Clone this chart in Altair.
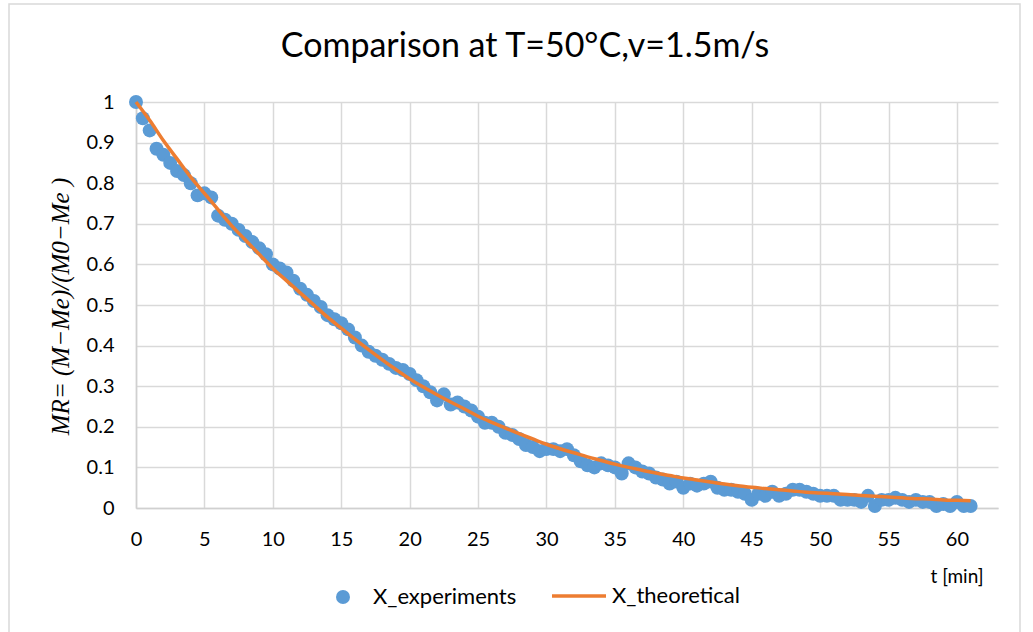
import altair as alt
import pandas as pd

# ---- data ----
t_exp = [0, 0.5, 1, 1.5, 2, 2.5, 3, 3.5, 4, 4.5, 5, 5.5, 6, 6.5, 7, 7.5, 8, 8.5, 9, 9.5,
         10, 10.5, 11, 11.5, 12, 12.5, 13, 13.5, 14, 14.5, 15, 15.5, 16, 16.5, 17, 17.5, 18, 18.5, 19, 19.5,
         20, 20.5, 21, 21.5, 22, 22.5, 23, 23.5, 24, 24.5, 25, 25.5, 26, 26.5, 27, 27.5, 28, 28.5, 29, 29.5,
         30, 30.5, 31, 31.5, 32, 32.5, 33, 33.5, 34, 34.5, 35, 35.5, 36, 36.5, 37, 37.5, 38, 38.5, 39, 39.5,
         40, 40.5, 41, 41.5, 42, 42.5, 43, 43.5, 44, 44.5, 45, 45.5, 46, 46.5, 47, 47.5, 48, 48.5, 49, 49.5,
         50, 50.5, 51, 51.5, 52, 52.5, 53, 53.5, 54, 54.5, 55, 55.5, 56, 56.5, 57, 57.5, 58, 58.5, 59, 59.5,
         60, 60.5, 61]
mr_exp = [1.0, 0.96, 0.93, 0.885, 0.87, 0.85, 0.83, 0.82, 0.80, 0.77, 0.775, 0.765, 0.72, 0.71, 0.70, 0.685, 0.67, 0.655, 0.64, 0.625,
          0.60, 0.59, 0.58, 0.56, 0.54, 0.525, 0.51, 0.495, 0.475, 0.465, 0.455, 0.44, 0.42, 0.40, 0.385, 0.375, 0.365, 0.355, 0.345, 0.34,
          0.33, 0.315, 0.30, 0.285, 0.265, 0.28, 0.255, 0.26, 0.25, 0.24, 0.225, 0.21, 0.21, 0.20, 0.185, 0.18, 0.17, 0.155, 0.15, 0.14,
          0.145, 0.145, 0.14, 0.145, 0.13, 0.115, 0.105, 0.10, 0.11, 0.105, 0.10, 0.085, 0.11, 0.10, 0.09, 0.085, 0.075, 0.07, 0.06, 0.065,
          0.05, 0.06, 0.055, 0.06, 0.065, 0.05, 0.045, 0.045, 0.04, 0.035, 0.02, 0.035, 0.03, 0.04, 0.03, 0.035, 0.045, 0.045, 0.04, 0.035,
          0.03, 0.03, 0.03, 0.02, 0.02, 0.02, 0.015, 0.03, 0.005, 0.02, 0.02, 0.025, 0.02, 0.015, 0.02, 0.015, 0.015, 0.005, 0.01, 0.005,
          0.015, 0.005, 0.005]

t_theo = [0, 1, 2, 3, 4, 5, 6, 7, 8, 9, 10, 11, 12, 13, 14, 15, 16, 17, 18, 19, 20,
          21, 22, 23, 24, 25, 26, 27, 28, 29, 30, 31, 32, 33, 34, 35, 36, 37, 38, 39, 40,
          41, 42, 43, 44, 45, 46, 47, 48, 49, 50, 51, 52, 53, 54, 55, 56, 57, 58, 59, 60, 61]
mr_theo = [1.0, 0.955, 0.905, 0.86, 0.815, 0.775, 0.735, 0.695, 0.66, 0.625, 0.59,
           0.56, 0.53, 0.5, 0.47, 0.443, 0.416, 0.39, 0.365, 0.341, 0.318,
           0.298, 0.279, 0.261, 0.244, 0.226, 0.211, 0.197, 0.183, 0.17, 0.157,
           0.146, 0.136, 0.126, 0.117, 0.108, 0.1, 0.093, 0.086, 0.08, 0.074,
           0.069, 0.064, 0.059, 0.055, 0.051, 0.048, 0.045, 0.042, 0.039, 0.037,
           0.035, 0.033, 0.031, 0.029, 0.027, 0.025, 0.023, 0.022, 0.02, 0.019, 0.018]

x_ticks = [0, 5, 10, 15, 20, 25, 30, 35, 40, 45, 50, 55, 60]
y_ticks = [0, 0.1, 0.2, 0.3, 0.4, 0.5, 0.6, 0.7, 0.8, 0.9, 1.0]

BLUE = "#5B9BD5"
ORANGE = "#ED7D31"
FONT = "Lato"

df_exp = pd.DataFrame({"t": t_exp, "mr": mr_exp, "series": "X_experiments"})
df_theo = pd.DataFrame({"t": t_theo, "mr": mr_theo, "series": "X_theoretical"})

x_enc = alt.X("t:Q", scale=alt.Scale(domain=[0, 63], nice=False),
              axis=alt.Axis(values=x_ticks, title="t [min]", titleX=847, titleY=68,
                            titleAlign="right", titleBaseline="middle", titleFont=FONT,
                            titleFontSize=19, titleFontWeight="normal", titleColor="#000",
                            labelPadding=21, labelFlush=False))
y_enc = alt.Y("mr:Q", scale=alt.Scale(domain=[0, 1], nice=False),
              axis=alt.Axis(values=y_ticks, format=".1~f",
                            title="MR=  (M−Me)/(M0−Me )", titleX=-76, titleY=204,
                            titleAlign="center", titleBaseline="middle",
                            titleFont="Liberation Serif", titleFontStyle="italic",
                            titleFontSize=25, titleFontWeight="normal", titleColor="#000",
                            labelPadding=22, labelFlush=False))

border = alt.Chart(alt.Data(values=[{}])).mark_rect(
    fill=None, stroke="#d9d9d9", strokeWidth=1.5
).encode(x=alt.value(9 - 136), x2=alt.value(1020 - 136),
         y=alt.value(4 - 102), y2=alt.value(640 - 102))

points = alt.Chart(df_exp).mark_point(filled=True, size=195, opacity=1).encode(
    x=x_enc, y=y_enc,
    color=alt.Color("series:N", scale=alt.Scale(domain=["X_experiments"], range=[BLUE]),
                    legend=alt.Legend(title=None, orient="none", legendX=196, legendY=484,
                                      symbolType="circle", symbolSize=195, labelOffset=19,
                                      labelFont=FONT, labelFontSize=22, labelColor="#000",
                                      padding=0))
)

line = alt.Chart(df_theo).mark_line(strokeWidth=3.5, interpolate="monotone").encode(
    x=x_enc, y=y_enc,
    color=alt.Color("series:N", scale=alt.Scale(domain=["X_theoretical"], range=[ORANGE]),
                    legend=alt.Legend(title=None, orient="none", legendX=414, legendY=465,
                                      symbolType="stroke", symbolSize=2916, symbolStrokeWidth=3.5,
                                      labelOffset=4, labelFont=FONT, labelFontSize=22,
                                      labelColor="#000", padding=0))
)

chart = alt.layer(border, points, line).resolve_scale(color="independent").properties(
    width=862, height=406,
    background="white",
    autosize=alt.AutoSizeParams(type="none"),
    padding={"left": 136, "top": 102, "right": 35, "bottom": 124},
    title=alt.TitleParams(text="Comparison at T=50°C,v=1.5m/s", font=FONT, fontSize=34,
                          fontWeight="normal", color="#000", anchor="middle", dx=-42,
                          frame="group", baseline="alphabetic", offset=0, dy=88),
).configure_view(stroke=None).configure_axis(
    grid=True, gridColor="#d9d9d9", gridWidth=1.5, domainColor="#d0d0d0", domainWidth=1.5,
    ticks=False, labelFont=FONT, labelFontSize=20, labelColor="#000"
)

chart.save("out.html", embed_options={"renderer": "svg", "actions": False})
